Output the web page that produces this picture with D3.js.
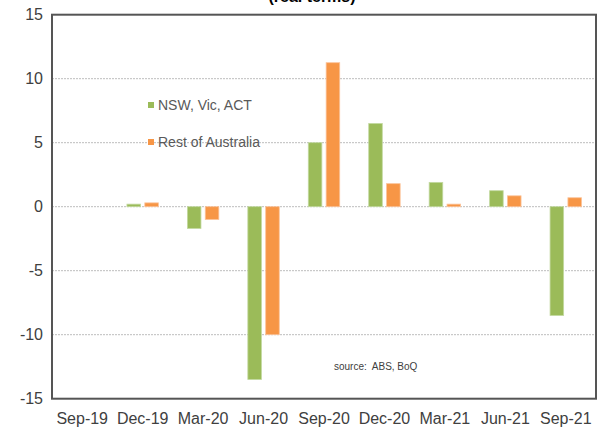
<!DOCTYPE html>
<html><head><meta charset="utf-8">
<script src="https://cdn.jsdelivr.net/npm/d3@7"></script>
<style>body{margin:0;background:#fff}svg{display:block}</style>
</head><body><svg id="c" width="600" height="436"></svg>
<script>
const categories = ["Sep-19","Dec-19","Mar-20","Jun-20","Sep-20","Dec-20","Mar-21","Jun-21","Sep-21"];
const seriesNames = ["NSW, Vic, ACT","Rest of Australia"];
const nswVicAct = [0, 0.2, -1.7, -13.5, 5.0, 6.5, 1.9, 1.25, -8.5];
const restOfAus = [0, 0.3, -1.0, -10.0, 11.25, 1.8, 0.2, 0.85, 0.7];
const yTicks = [-15,-10,-5,0,5,10,15];
const colors = ["#9BBB59","#F79646"];
const strokes = ["#c3d9a0","#fbc39a"];

const svg = d3.select("#c");
const L=52, R=596, T=14.7, B=398.7;
const x = d3.scaleBand().domain(categories).range([L,R]).paddingInner(0.48).paddingOuter(0.24);
const xs = d3.scaleBand().domain(seriesNames).range([0,x.bandwidth()]).paddingInner(0.24);
const y = d3.scaleLinear().domain([-15,15]).range([B,T]);

// title (cut off at top, as in the reference)
svg.append("text").attr("x",312).attr("y",2).attr("text-anchor","middle")
  .attr("font-family","Liberation Sans, Arial, sans-serif").attr("font-weight","bold")
  .attr("font-size",16).attr("fill","#000").text("(real terms)");

// gridlines
svg.append("g").selectAll("line").data(yTicks.filter(v=>v>-15&&v<15)).join("line")
  .attr("x1",L).attr("x2",R).attr("y1",d=>y(d)).attr("y2",d=>y(d))
  .attr("stroke","#bdbdbd").attr("stroke-width",1).attr("stroke-dasharray","2,1");

// bars
const data = [nswVicAct, restOfAus];
data.forEach((vals,si)=>{
  svg.append("g").selectAll("rect").data(vals.map((v,i)=>({c:categories[i],v}))).join("rect")
    .filter(d=>d.v!==0)
    .attr("x",d=>x(d.c)+xs(seriesNames[si]))
    .attr("width",xs.bandwidth())
    .attr("y",d=>y(Math.max(0,d.v)))
    .attr("height",d=>Math.abs(y(d.v)-y(0)))
    .attr("fill",colors[si]).attr("stroke",strokes[si]).attr("stroke-width",0.8);
});

// frame
svg.append("rect").attr("x",L).attr("y",T).attr("width",R-L).attr("height",B-T)
  .attr("fill","none").attr("stroke","#555").attr("stroke-width",2);

// y axis labels
const yAxis = d3.axisLeft(y).tickValues(yTicks).tickSize(0).tickPadding(8).tickFormat(d=>String(d));
const gy = svg.append("g").attr("transform",`translate(${L-1},0)`).call(yAxis);
gy.select(".domain").remove();
gy.selectAll("text").attr("font-family","Liberation Sans, Arial, sans-serif")
  .attr("font-size",16).attr("fill","#404040");

// x axis labels
const gx = svg.append("g").attr("transform",`translate(0,${B})`)
  .call(d3.axisBottom(x).tickSize(0).tickPadding(14));
gx.select(".domain").remove();
gx.selectAll("text").attr("font-family","Liberation Sans, Arial, sans-serif")
  .attr("font-size",16).attr("fill","#404040");

// legend
const lg = svg.append("g");
seriesNames.forEach((n,i)=>{
  const yy = 105 + i*37;
  lg.append("rect").attr("x",148).attr("y",yy-3).attr("width",6).attr("height",6).attr("fill",colors[i]);
  lg.append("text").attr("x",158).attr("y",yy+5).attr("font-family","Liberation Sans, Arial, sans-serif")
    .attr("font-size",14).attr("fill","#595959").text(n);
});

// source
svg.append("text").attr("x",334).attr("y",370).attr("font-family","Liberation Sans, Arial, sans-serif")
  .attr("font-size",10).attr("fill","#404040").attr("xml:space","preserve").text("source:  ABS, BoQ");
</script></body></html>
